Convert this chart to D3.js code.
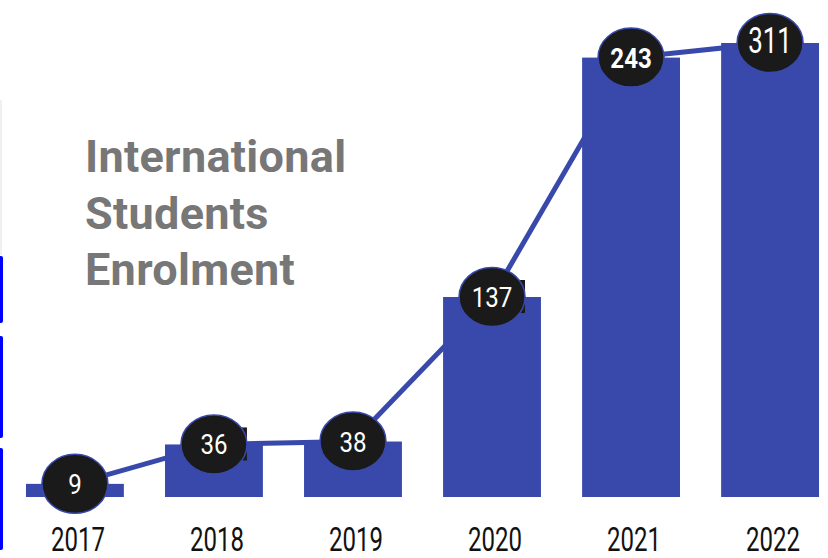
<!DOCTYPE html>
<html>
<head>
<meta charset="utf-8">
<script src="https://cdn.jsdelivr.net/npm/d3@7"></script>
<style>
  html, body { margin: 0; padding: 0; background: #ffffff; }
  svg { display: block; }
</style>
</head>
<body>
<div id="chart"></div>
<script>
// ---- data ----
const years = ["2017", "2018", "2019", "2020", "2021", "2022"];
const enrolment = [9, 36, 38, 137, 243, 311];          // labels shown in the circles
const barLevels = [9, 36, 38, 137, 301, 311];          // bar heights as drawn in the picture
const titleLines = ["International", "Students", "Enrolment"];
const boxedYears = ["2018", "2020"];                    // labels with a stray box behind them

const W = 828, H = 558;
const BAR = "#3949ab", DOT = "#1a1a1a", TITLE = "#777777";

const svg = d3.select("#chart").append("svg").attr("width", W).attr("height", H);

const x = d3.scaleBand().domain(years).range([5.4, 839.6]).paddingInner(0.296).paddingOuter(0.148);
const y = d3.scaleLinear().domain([0, 311]).range([497, 43]);

const data = years.map((yr, i) => ({ year: yr, label: enrolment[i], level: barLevels[i] }));

// left-edge decorations
svg.append("rect").attr("x", 0).attr("y", 100).attr("width", 2).attr("height", 155).attr("fill", "#f3efec");
[[256, 323], [336, 438], [448, 550]].forEach(([a, b]) => {
  svg.append("rect").attr("x", -3).attr("y", a).attr("width", 6).attr("height", b - a)
    .attr("rx", 2).attr("fill", "#0000ff");
});

// title
const title = svg.append("text").attr("x", 85).attr("y", 172)
  .attr("font-family", "Roboto, 'DejaVu Sans', sans-serif")
  .attr("font-weight", 700).attr("font-size", 45).attr("fill", TITLE)
  .attr("letter-spacing", 0.3);
title.selectAll("tspan").data(titleLines).join("tspan")
  .attr("x", 85).attr("dy", (d, i) => i === 0 ? 0 : 56.5).text(d => d);

// connecting line (behind bars & circles)
const line = d3.line().x(d => x(d.year) + x.bandwidth() / 2).y(d => y(d.level));
svg.append("path").datum(data).attr("d", line)
  .attr("fill", "none").attr("stroke", BAR).attr("stroke-width", 5);

// bars
svg.append("g").selectAll("rect").data(data).join("rect")
  .attr("x", d => x(d.year)).attr("width", x.bandwidth())
  .attr("y", d => y(d.level)).attr("height", d => y(0) - y(d.level))
  .attr("fill", BAR);

// stray label boxes
svg.append("g").selectAll("rect").data(data.filter(d => boxedYears.includes(d.year))).join("rect")
  .attr("x", d => x(d.year) + x.bandwidth() / 2 - 20)
  .attr("y", d => y(d.level) - 17)
  .attr("width", 53).attr("height", 33).attr("fill", DOT);

// circles
const nodes = svg.append("g").selectAll("g").data(data).join("g")
  .attr("transform", d => `translate(${x(d.year) + x.bandwidth() / 2},${y(d.level)})`);
nodes.append("ellipse").attr("rx", 33).attr("ry", 29.5)
  .attr("fill", DOT).attr("stroke", BAR).attr("stroke-width", 1.5);

const lbl = nodes.append("text")
  .attr("text-anchor", "middle")
  .attr("font-family", "Roboto, 'DejaVu Sans', sans-serif")
  .attr("fill", "#ffffff")
  .attr("font-weight", d => d.year === "2021" ? 700 : 400)
  .attr("font-size", d => d.year === "2022" ? 36 : 28)
  .attr("y", 10)
  .text(d => d.label);
lbl.each(function (d) {
  const w = this.getComputedTextLength();
  const s = d.year === "2022" ? 0.72 : 0.86;
  d3.select(this).attr("textLength", w * s).attr("lengthAdjust", "spacingAndGlyphs");
});

// x axis (year labels)
const ax = svg.append("g").attr("transform", "translate(3,527)")
  .call(d3.axisBottom(x).tickSize(0).tickPadding(0));
ax.select(".domain").remove();
ax.selectAll("text")
  .attr("font-family", "'Liberation Sans Narrow', Roboto, sans-serif")
  .attr("font-size", 34).attr("fill", "#111111").attr("dy", "0.71em")
  .attr("textLength", 54).attr("lengthAdjust", "spacingAndGlyphs");
</script>
</body>
</html>
